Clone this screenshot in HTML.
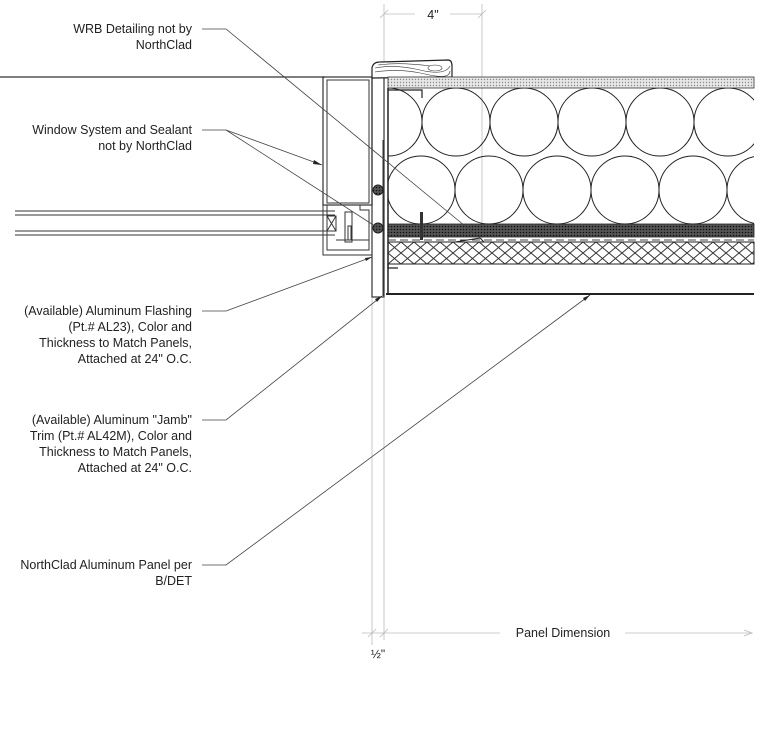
<!DOCTYPE html>
<html><head><meta charset="utf-8"><style>
html,body{margin:0;padding:0;background:#fff;}
svg{display:block}
text{font-family:"Liberation Sans",Arial,sans-serif;font-size:12.5px;fill:#222}
</style></head><body>
<svg width="768" height="734" viewBox="0 0 768 734" xmlns="http://www.w3.org/2000/svg">
<defs>
<pattern id="dots" width="3" height="3" patternUnits="userSpaceOnUse"><rect width="3" height="3" fill="#e8e8e8"/><circle cx="1.5" cy="1.5" r="0.7" fill="#888"/></pattern>
<pattern id="dark" width="3" height="3" patternUnits="userSpaceOnUse"><rect width="3" height="3" fill="#555"/><circle cx="1.5" cy="1.5" r="0.8" fill="#111"/></pattern>
<pattern id="xh" x="388" y="242" width="13" height="11" patternUnits="userSpaceOnUse"><path d="M0,0 L13,11 M13,0 L0,11" stroke="#333" stroke-width="1"/></pattern>
<clipPath id="ins"><rect x="388" y="88" width="366" height="136"/></clipPath>
</defs>
<g stroke="#bbb" stroke-width="0.8" fill="none">
<line x1="384" y1="4" x2="384" y2="640"/>
<line x1="482" y1="4" x2="482" y2="245"/>
<line x1="372" y1="255" x2="372" y2="645"/>
<line x1="384" y1="14" x2="415" y2="14"/><line x1="450" y1="14" x2="482" y2="14"/>
<line x1="380" y1="18" x2="388" y2="10"/><line x1="478" y1="18" x2="486" y2="10"/>
<line x1="362" y1="633" x2="500" y2="633"/><line x1="625" y1="633" x2="752" y2="633"/>
<path d="M744,630 L752,633 L744,636"/>
<line x1="368" y1="637" x2="376" y2="629"/><line x1="380" y1="637" x2="388" y2="629"/>
</g>
<text x="433" y="19" text-anchor="middle">4"</text>
<text x="563" y="637" text-anchor="middle">Panel Dimension</text>
<text x="378" y="658" text-anchor="middle" style="font-size:12px">½"</text>
<g stroke="#333" stroke-width="1" fill="none">
<line x1="0" y1="77" x2="325" y2="77" stroke-width="1.3"/>
<line x1="15" y1="211" x2="335" y2="211"/><line x1="15" y1="215" x2="335" y2="215"/>
<line x1="15" y1="231" x2="335" y2="231"/><line x1="15" y1="235" x2="335" y2="235"/>
<rect x="327" y="216" width="9" height="15"/><path d="M327,216 L336,231 M336,216 L327,231"/>
<rect x="323" y="77" width="49" height="128" stroke-width="1.2"/>
<rect x="327" y="80" width="42" height="123"/>
<path d="M323,205 L323,255 L372,255 L372,205"/>
<path d="M327,205 L327,250 L369,250 L369,210 L360,210 L360,205"/>
<rect x="345" y="212" width="7" height="30"/><rect x="348" y="226" width="3" height="14"/>
<line x1="336" y1="240" x2="369" y2="240"/>
<rect x="372" y="77" width="12" height="220" stroke-width="1.2"/>
<line x1="383" y1="140" x2="383" y2="296"/>
</g>
<circle cx="378" cy="190" r="5" fill="url(#dark)" stroke="#222"/>
<circle cx="378" cy="228" r="5" fill="url(#dark)" stroke="#222"/>
<path d="M372,78 L372,68 Q373,62 380,62 L448,60 Q452,60 452,66 L452,77 Z" fill="#fff" stroke="#222" stroke-width="1.2"/>
<g stroke="#333" stroke-width="0.6" fill="none">
<path d="M375,68 Q395,64 420,70 T450,66"/><path d="M375,72 Q400,68 425,74 T450,71"/><path d="M378,65 Q400,62 430,66"/>
<ellipse cx="435" cy="68" rx="7" ry="3"/>
</g>
<rect x="388" y="77" width="366" height="11" fill="url(#dots)" stroke="#333" stroke-width="0.8"/>
<line x1="388" y1="88" x2="388" y2="295" stroke="#222" stroke-width="1.5"/>
<path d="M388,90 L422,90 L422,98" stroke="#222" fill="none" stroke-width="1.2"/>
<g clip-path="url(#ins)" stroke="#222" stroke-width="1" fill="none">
<circle cx="388" cy="122" r="34"/><circle cx="456" cy="122" r="34"/><circle cx="524" cy="122" r="34"/><circle cx="592" cy="122" r="34"/><circle cx="660" cy="122" r="34"/><circle cx="728" cy="122" r="34"/><circle cx="796" cy="122" r="34"/>
<circle cx="421" cy="190" r="34"/><circle cx="489" cy="190" r="34"/><circle cx="557" cy="190" r="34"/><circle cx="625" cy="190" r="34"/><circle cx="693" cy="190" r="34"/><circle cx="761" cy="190" r="34"/>
</g>
<rect x="388" y="224" width="366" height="13" fill="url(#dark)" stroke="#222" stroke-width="0.8"/>
<line x1="388" y1="240" x2="754" y2="240" stroke="#444" stroke-dasharray="8,4"/>
<rect x="420" y="212" width="3" height="28" fill="#333"/>
<path d="M455,242 L480,238 L484,242 Z" fill="none" stroke="#222"/>
<rect x="388" y="242" width="366" height="22" fill="url(#xh)" stroke="#222" stroke-width="1"/>
<path d="M388,264 L388,268 L398,268" stroke="#222" fill="none" stroke-width="1.2"/>
<line x1="386" y1="294" x2="754" y2="294" stroke="#222" stroke-width="2"/>
<g stroke="#444" stroke-width="0.8" fill="none">
<path d="M202,29 L226,29 L482,240"/>
<path d="M202,130 L226,130 L322,165"/><path d="M226,130 L378,228"/>
<path d="M202,311 L226,311 L372,257"/>
<path d="M202,420 L226,420 L382,296"/>
<path d="M202,565 L226,565 L590,295"/>
</g>
<g fill="#222">
<path d="M322,165 L314,160 L313,164 Z"/>
<path d="M372,257 L365,258 L366,261 Z"/>
<path d="M382,296 L375,299 L377,302 Z"/>
<path d="M590,295 L583,298 L585,301 Z"/>
</g>
<g text-anchor="end">
<text x="192" y="33">WRB Detailing not by</text>
<text x="192" y="49">NorthClad</text>
<text x="192" y="134">Window System and Sealant</text>
<text x="192" y="150">not by NorthClad</text>
<text x="192" y="315">(Available) Aluminum Flashing</text>
<text x="192" y="331">(Pt.# AL23), Color and</text>
<text x="192" y="347">Thickness to Match Panels,</text>
<text x="192" y="363">Attached at 24" O.C.</text>
<text x="192" y="424">(Available) Aluminum "Jamb"</text>
<text x="192" y="440">Trim (Pt.# AL42M), Color and</text>
<text x="192" y="456">Thickness to Match Panels,</text>
<text x="192" y="472">Attached at 24" O.C.</text>
<text x="192" y="569">NorthClad Aluminum Panel per</text>
<text x="192" y="585">B/DET</text>
</g>
</svg>
</body></html>
